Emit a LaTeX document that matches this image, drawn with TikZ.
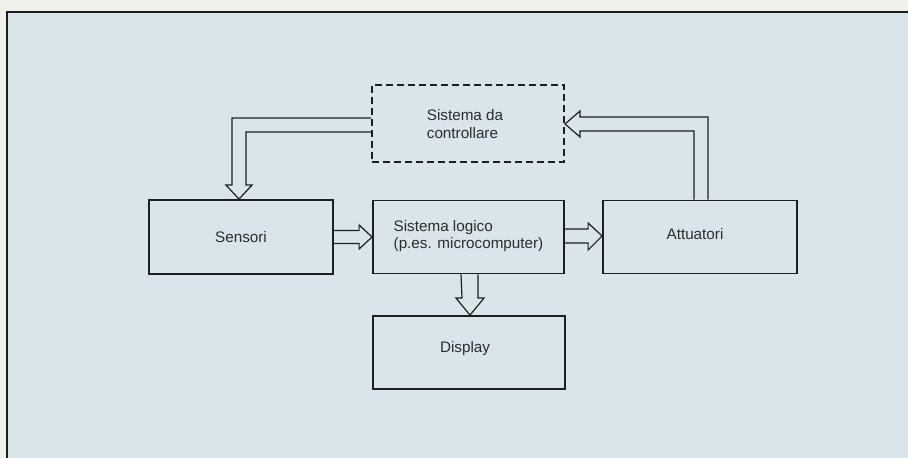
\documentclass[tikz,border=0pt]{standalone}
\usepackage{fontspec}
\setmainfont{Liberation Sans}
\usetikzlibrary{calc}
\definecolor{paper}{RGB}{241,241,236}
\definecolor{bgblue}{RGB}{218,228,235}
\definecolor{ink}{RGB}{30,30,30}
\definecolor{txt}{RGB}{45,45,45}
\begin{document}
\begin{tikzpicture}[x=1bp,y=-1bp,
  box/.style={draw=ink,line width=1.8bp,minimum width=#1,inner sep=0pt},
  dbox/.style={draw=ink,line width=2bp,dash pattern=on 7bp off 4bp,inner sep=0pt},
  lbl/.style={text=txt,font=\fontsize{15.3}{17.5}\selectfont,align=left,inner sep=0pt},
  hollow/.style={draw=ink,line width=1.2bp,line join=miter}]
% background and frame
\fill[paper] (0,0) rectangle (908,458);
\fill[bgblue] (7,12) rectangle (908,458);
\useasboundingbox (0,0) rectangle (908,458);
\draw[ink,line width=2.4bp] (908,12) -- (7,12) -- (7,458);
% boxes
\node[dbox,minimum width=192bp,minimum height=77bp] (ctrl) at (468,123.5) {};
\node[box=184bp,minimum height=74bp] (sens) at (241,237) {};
\node[box=191bp,minimum height=73bp] (logic) at (468.5,237) {};
\node[box=194bp,minimum height=73bp] (act) at (700,237) {};
\node[box=192bp,minimum height=73bp] (disp) at (469,352.5) {};
% labels
\node[lbl] (tctrl) at ($(ctrl)+(-3,0.5)$) {Sistema da\\controllare};
\node[lbl] (tsens) at ($(sens)+(0,0)$) {Sensori};
\node[lbl] (tlogic) at ($(logic)+(0,-1)$) {Sistema logico\\(p.es. microcomputer)};
\node[lbl] (tact) at ($(act)+(-5,-3)$) {Attuatori};
\node[lbl] (tdisp) at ($(disp)+(-4,-3.5)$) {Display};
% sensori -> logic
\draw[hollow] ($(sens.east)+(0,-6.5)$) -- ($(logic.west)+(-13,-6.5)$) -- ($(logic.west)+(-13,-12)$)
  -- (logic.west) -- ($(logic.west)+(-13,12)$) -- ($(logic.west)+(-13,6.5)$) -- ($(sens.east)+(0,6.5)$);
% logic -> attuatori
\draw[hollow] ($(logic.east)+(0,-8)$) -- ($(act.west)+(-14,-8)$) -- ($(act.west)+(-14,-14)$)
  -- ($(act.west)+(0,-1)$) -- ($(act.west)+(-14,13)$) -- ($(act.west)+(-14,6)$) -- ($(logic.east)+(0,6)$);
% logic -> display
\coordinate (dtip) at ($(disp.north)+(1,0)$);
\draw[hollow] ($(logic.south)+(-7.5,0)$) -- ($(dtip)+(-8,-17)$) -- ($(dtip)+(-14,-17)$)
  -- (dtip) -- ($(dtip)+(14,-17)$) -- ($(dtip)+(8,-17)$) -- ($(logic.south)+(9.5,0)$);
% sistema -> sensori
\coordinate (t1) at ($(sens.north)+(-2,0)$);
\coordinate (s1) at ($(ctrl.west)+(0,1.5)$);
\coordinate (c1) at (t1|-s1);
\draw[hollow] ($(s1)+(0,-7)$) -- ($(c1)+(-7,-7)$) -- ($(t1)+(-7,-14)$) -- ($(t1)+(-13,-14)$)
  -- (t1) -- ($(t1)+(13,-14)$) -- ($(t1)+(7,-14)$) -- ($(c1)+(7,7)$) -- ($(s1)+(0,7)$);
% attuatori -> sistema
\coordinate (s2) at ($(act.north)+(1,0)$);
\coordinate (t2) at ($(ctrl.east)+(0,0.5)$);
\coordinate (c2) at (s2|-t2);
\draw[hollow] ($(s2)+(7,0)$) -- ($(c2)+(7,-7)$) -- ($(t2)+(15,-7)$) -- ($(t2)+(15,-13)$)
  -- (t2) -- ($(t2)+(15,13)$) -- ($(t2)+(15,7)$) -- ($(c2)+(-7,7)$) -- ($(s2)+(-7,0)$);
\end{tikzpicture}
\end{document}
